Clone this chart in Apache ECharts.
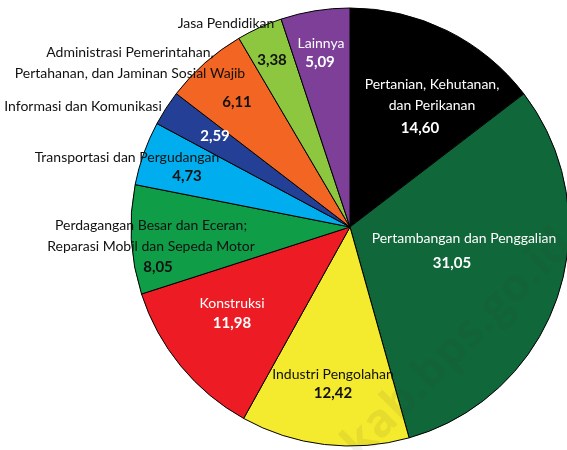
<!DOCTYPE html>
<html>
<head>
<meta charset="utf-8">
<script src="https://cdn.jsdelivr.net/npm/echarts@6/dist/echarts.min.js"></script>
<style>
    html, body {margin: 0; padding: 0; background: #fff;}
    #pieChart {width: 567px; height: 450px;}
</style>
</head>
<body>
<div id="pieChart"></div>
<script>
// sektor lapangan usaha (%), urut searah jarum jam dari atas
var categories = [
    'Pertanian, Kehutanan,\ndan Perikanan',
    'Pertambangan dan Penggalian',
    'Industri Pengolahan',
    'Konstruksi',
    'Perdagangan Besar dan Eceran;\nReparasi Mobil dan Sepeda Motor',
    'Transportasi dan Pergudangan',
    'Informasi dan Komunikasi',
    'Administrasi Pemerintahan,\nPertahanan, dan Jaminan Sosial Wajib',
    'Jasa Pendidikan',
    'Lainnya'
];
var values = [14.60, 31.05, 12.42, 11.98, 8.05, 4.73, 2.59, 6.11, 3.38, 5.09];

// warna & posisi label
var colors = ['#000000', '#10673a', '#f4ea2e', '#ed1c24', '#0f9d48', '#00aeef', '#233f96', '#f26522', '#8dc63f', '#7d3f98'];
var nameColors = ['#fff', '#fff', '#111', '#fff', '#111', '#111', '#111', '#111', '#111', '#fff'];
var valueColors = ['#fff', '#fff', '#111', '#fff', '#111', '#111', '#fff', '#111', '#111', '#fff'];
var namePos = [[432, 95], [464, 238], [333, 374], [232, 303], [151, 236], [127, 157], [83, 106], [130, 63], [226, 23], [321, 43]];
var valuePos = [[420, 128], [452, 263], [333, 393], [232, 323], [158, 267], [187, 176], [215, 136], [237, 102], [272, 60], [320, 62]];

var font = 'Lato, "Noto Sans", sans-serif';
var myChart = echarts.init(document.getElementById('pieChart'));

var sliceData = [];
var valueData = [];
for (var i = 0; i < values.length; i++) {
    sliceData.push({
        name: categories[i],
        value: values[i],
        itemStyle: {color: colors[i]},
        label: {color: nameColors[i]}
    });
    valueData.push({
        name: categories[i],
        value: values[i],
        label: {color: valueColors[i]}
    });
}

function placeAt(pos) {
    return function (params) {
        var p = pos[params.dataIndex];
        return {x: p[0], y: p[1], align: 'center', verticalAlign: 'middle'};
    };
}

var option = {
    animation: false,
    backgroundColor: '#fff',
    graphic: [
        {
            // watermark
            type: 'text',
            x: 458,
            y: 345,
            rotation: 45 * Math.PI / 180,
            z: 100,
            style: {
                text: 'kab.bps.go.id',
                fontSize: 46,
                fontWeight: 'bold',
                fontFamily: '"Open Sans", sans-serif',
                fill: 'rgba(60,60,40,0.08)',
                textAlign: 'center',
                textVerticalAlign: 'middle'
            }
        }
    ],
    series: [
        {
            type: 'pie',
            center: [350, 227],
            radius: 219,
            startAngle: 90,
            clockwise: true,
            avoidLabelOverlap: false,
            itemStyle: {borderColor: '#000', borderWidth: 1},
            label: {
                show: true,
                position: 'inside',
                formatter: '{b}',
                fontFamily: font,
                fontSize: 14,
                lineHeight: 21
            },
            labelLine: {show: false},
            labelLayout: placeAt(namePos),
            data: sliceData
        },
        {
            type: 'pie',
            center: [350, 227],
            radius: 219,
            startAngle: 90,
            clockwise: true,
            silent: true,
            avoidLabelOverlap: false,
            itemStyle: {color: 'rgba(0,0,0,0)', borderWidth: 0},
            label: {
                show: true,
                position: 'inside',
                formatter: function (p) {
                    return p.value.toFixed(2).replace('.', ',');
                },
                fontFamily: font,
                fontSize: 15,
                fontWeight: 'bold'
            },
            labelLine: {show: false},
            labelLayout: placeAt(valuePos),
            data: valueData
        }
    ]
};
myChart.setOption(option);
</script>
</body>
</html>
